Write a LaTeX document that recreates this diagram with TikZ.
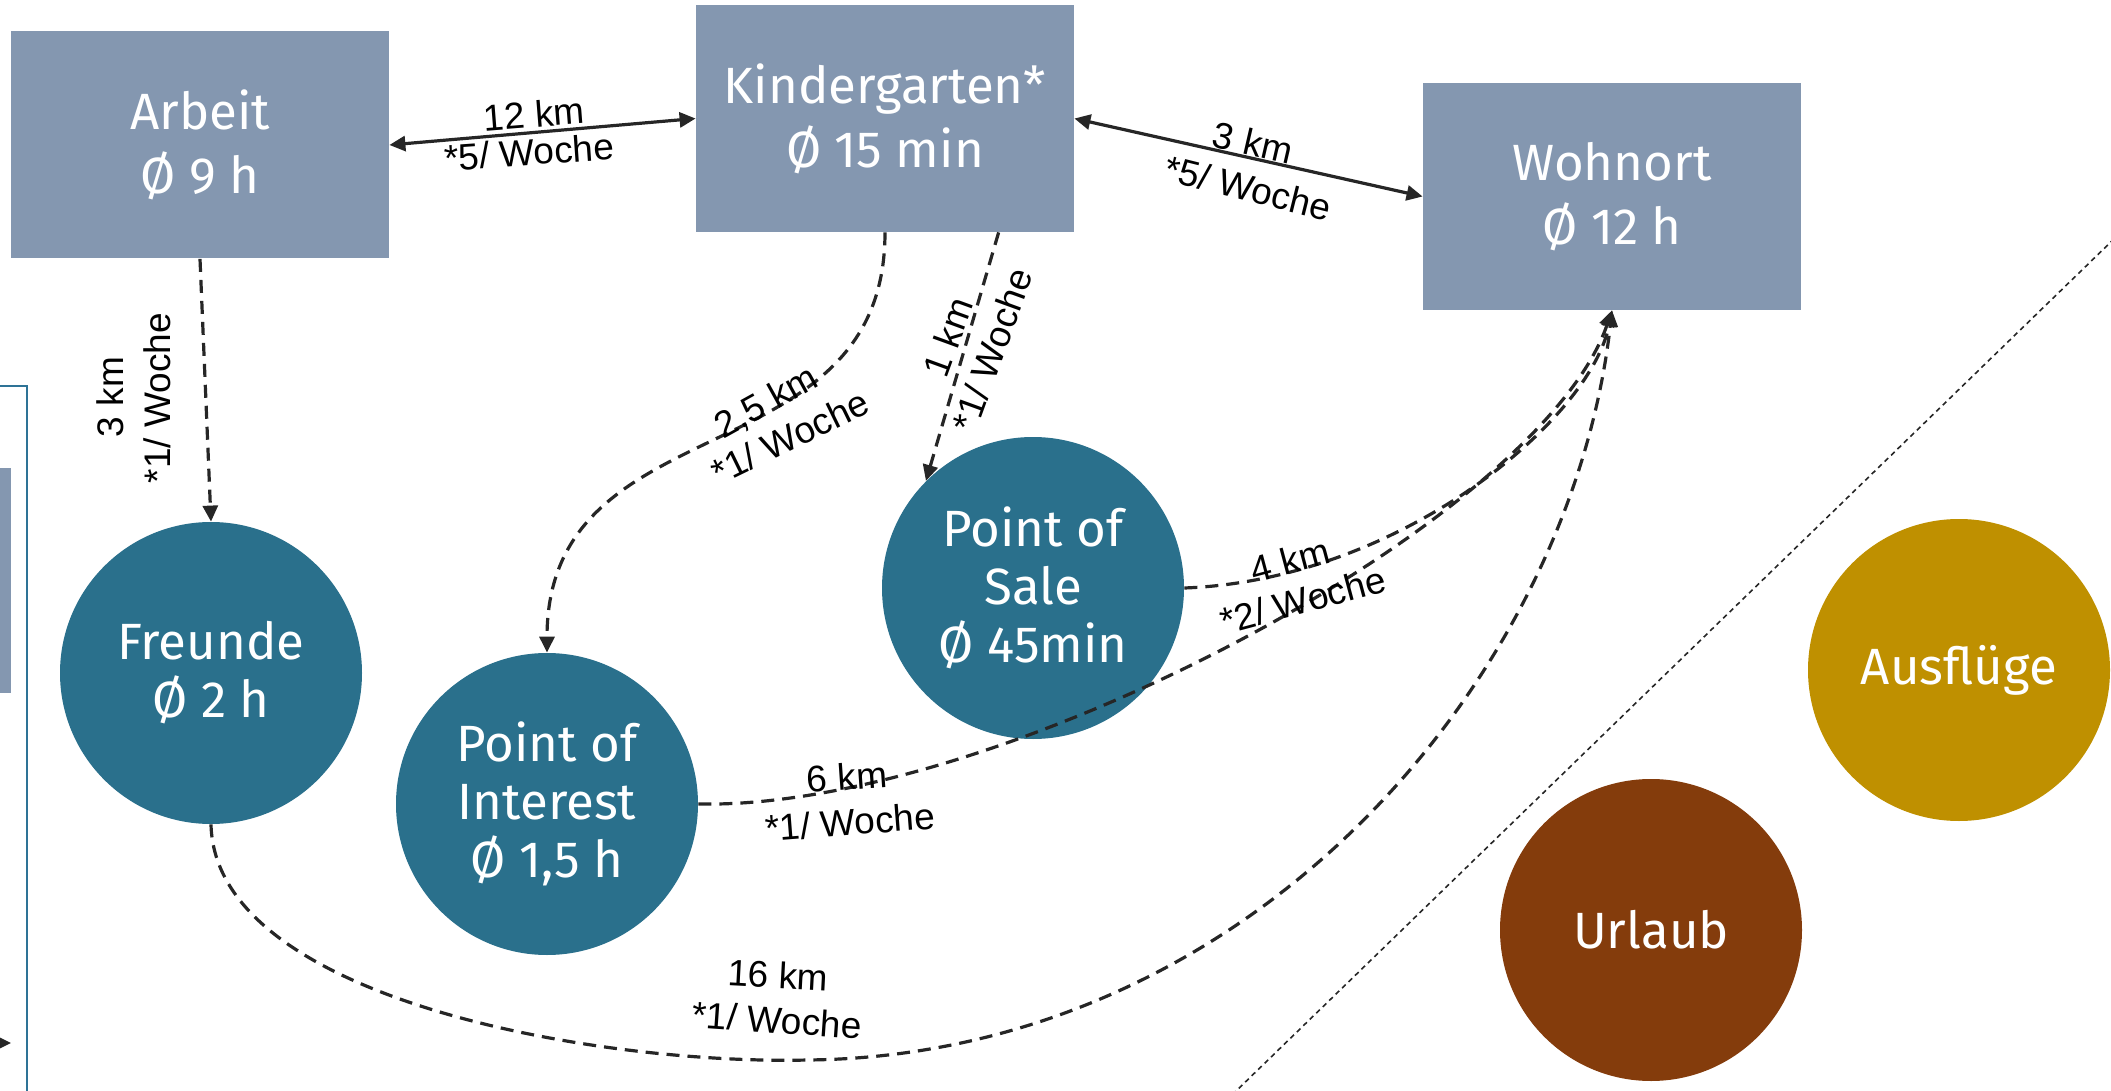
\documentclass[tikz,border=0pt]{standalone}
\usepackage{fontspec}
\setmainfont{Fira Sans}
\newfontfamily\lblfont{Liberation Sans}
\usetikzlibrary{arrows.meta,calc}
\definecolor{boxgray}{HTML}{8497B0}
\definecolor{tealc}{HTML}{2A708C}
\definecolor{goldc}{HTML}{BF9000}
\definecolor{brownc}{HTML}{843C0C}
\definecolor{linecol}{HTML}{262626}
\definecolor{outlineteal}{HTML}{2E7396}
\begin{document}
\begin{tikzpicture}[x=0.5pt,y=-0.5pt,
  boxnode/.style={rectangle, fill=boxgray, minimum width=189pt, minimum height=113.5pt, inner sep=0pt, text=white, align=center, font=\fontsize{25.5}{32}\selectfont},
  circnode/.style={circle, minimum size=151pt, inner sep=0pt, text=white, align=center, font=\fontsize{25.5}{29}\selectfont},
  conn/.style={draw=linecol, line width=1.6pt},
  dashconn/.style={conn, dash pattern=on 6.5pt off 4pt},
  tip/.style={-{Triangle[length=8pt,width=7.5pt]}},
  bitip/.style={{Triangle[length=8pt,width=7.5pt]}-{Triangle[length=8pt,width=7.5pt]}},
  lbl/.style={font=\lblfont\fontsize{18.5}{20}\selectfont, text=black, inner sep=0pt},
  divider/.style={draw=linecol, line width=0.8pt, dash pattern=on 2.5pt off 2pt}
]
\useasboundingbox (0,0) rectangle (2111,1091);

% partial shapes at the left edge
\fill[boxgray] (-10,468) rectangle (11,693);
\draw[draw=outlineteal, line width=1.35pt] (-10,386) -- (27,386) -- (27,1110);
\coordinate (lin) at (-40,1043);
\coordinate (lout) at (11,1043);
\draw[conn, tip] (lin) -- (lout);

% divider
\coordinate (dA) at (1200,1126);
\coordinate (dB) at (2150,204);
\draw[divider] (dA) -- (dB);

% nodes
\node[boxnode] (arb) at (200,145) {Arbeit\\Ø 9 h};
\node[boxnode] (kg) at (885,118.5) {Kindergarten*\\Ø 15 min};
\node[boxnode] (woh) at (1612,196.5) {Wohnort\\Ø 12 h};
\node[circnode, fill=tealc] (fr) at (211,673) {Freunde\\Ø 2 h};
\node[circnode, fill=tealc] (poi) at (547,804) {Point of\\Interest\\Ø 1,5 h};
\node[circnode, fill=tealc] (pos) at (1033,588) {Point of\\Sale\\Ø 45min};
\node[circnode, fill=goldc] (aus) at (1959,670) {Ausflüge};
\node[circnode, fill=brownc] (url) at (1651,930) {Urlaub};

% connectors
\draw[conn, bitip] (arb.east) -- (kg.west);
\draw[conn, bitip] (kg.east) -- (woh.west);
\draw[dashconn, tip] (arb.south) -- (fr.north);
\draw[dashconn, tip] (kg.south) .. controls (885,480) and (547,400) .. (poi.north);
\draw[dashconn, tip] ($(kg.south west)!0.8!(kg.south east)$) -- (pos.135);
\draw[dashconn, tip] (pos.east) .. controls (1400,580) and (1590,420) .. (woh.south);
\draw[dashconn, tip] (poi.east) .. controls (1000,810) and (1540,520) .. (woh.south);
\draw[dashconn, tip] (fr.south) .. controls (215,1000) and (600,1065) .. (808,1060)
   .. controls (1250,1055) and (1570,680) .. (woh.south);

% labels
\node[lbl, rotate=4.5] (l1a) at (534,114) {12 km};
\node[lbl, rotate=4] (l1b) at (529,152) {*5/ Woche};
\node[lbl, rotate=-13] (l2a) at (1253,143) {3 km};
\node[lbl, rotate=-14] (l2b) at (1248,188) {*5/ Woche};
\node[lbl, rotate=90] (l3a) at (110,397) {3 km};
\node[lbl, rotate=90] (l3b) at (157,398) {*1/ Woche};
\node[lbl, rotate=29] (l4a) at (767,403) {2,5 km};
\node[lbl, rotate=26] (l4b) at (790,437) {*1/ Woche};
\node[lbl, rotate=70] (l5a) at (948,337) {1 km};
\node[lbl, rotate=70] (l5b) at (992,350) {*1/ Woche};
\node[lbl, rotate=15] (l6a) at (1290,560) {4 km};
\node[lbl, rotate=15] (l6b) at (1303,600) {*2/ Woche};
\node[lbl, rotate=4] (l7a) at (847,777) {6 km};
\node[lbl, rotate=4.5] (l7b) at (850,822) {*1/ Woche};
\node[lbl, rotate=-3] (l8a) at (778,975) {16 km};
\node[lbl, rotate=-4] (l8b) at (777,1020) {*1/ Woche};
\end{tikzpicture}
\end{document}
